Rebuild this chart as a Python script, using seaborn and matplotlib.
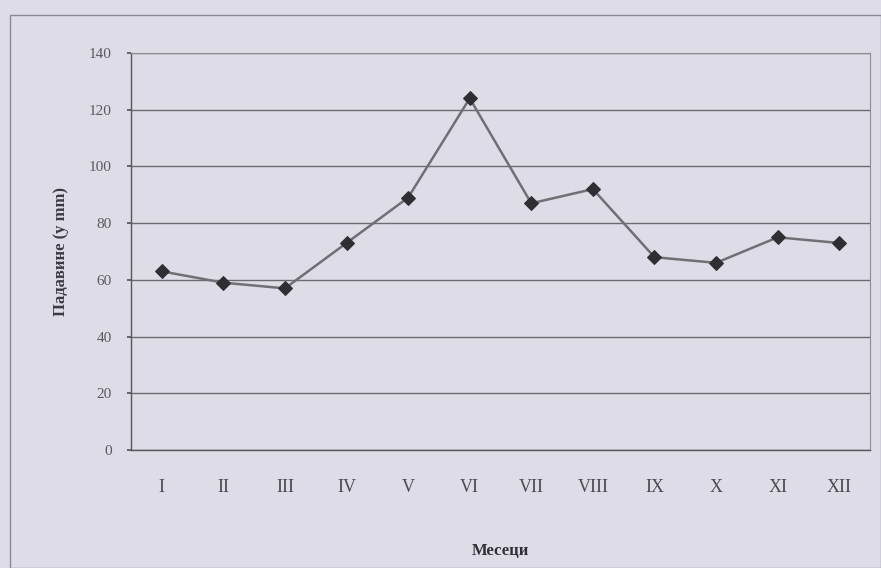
import numpy as np
import pandas as pd
import matplotlib
matplotlib.use("Agg")
import matplotlib.pyplot as plt
import seaborn as sns
from matplotlib.patches import Rectangle

# подаци
months = ["I", "II", "III", "IV", "V", "VI", "VII", "VIII", "IX", "X", "XI", "XII"]
precip = [63, 59, 57, 73, 89, 124, 87, 92, 68, 66, 75, 73]
y_ticks = [0, 20, 40, 60, 80, 100, 120, 140]

bg = "#dedde7"

sns.set_theme(style="white")
plt.rcParams['font.family'] = ['Liberation Serif', 'DejaVu Serif']

df = pd.DataFrame({"month": months, "precip": precip})

fig = plt.figure(figsize=(8.81, 5.68), dpi=100, facecolor=bg)
ax = fig.add_axes([131 / 881, 1 - 450 / 568, 739 / 881, 397 / 568])
ax.set_facecolor(bg)

# outer frame of the chart
fig.patches.append(Rectangle((10 / 881, 0.0), 871 / 881, 1 - 15 / 568,
                             transform=fig.transFigure, fill=False,
                             edgecolor="#8a8a92", linewidth=1.0))

sns.lineplot(data=df, x="month", y="precip", ax=ax, sort=False,
             color="#6f6f74", linewidth=1.8, marker="D", markersize=7,
             markerfacecolor="#2e2e33", markeredgecolor="#2e2e33")

ax.set_xlim(-0.5, 11.5)
ax.set_ylim(0, 140)
ax.set_yticks(y_ticks)
ax.yaxis.grid(True, color="#6a6a70", linewidth=1.0)
ax.set_axisbelow(True)

for side in ["top", "right"]:
    ax.spines[side].set_visible(True)
    ax.spines[side].set_color("#8c8c92")
    ax.spines[side].set_linewidth(0.8)
for side in ["left", "bottom"]:
    ax.spines[side].set_color("#55555a")
    ax.spines[side].set_linewidth(1.0)

ax.tick_params(axis="y", length=3, left=True, color="#55555a",
               labelsize=11, labelcolor="#5a5a60", pad=11)
ax.tick_params(axis="x", length=0, labelsize=13, labelcolor="#4a4a50", pad=21)

ax.set_xlabel("Месеци", fontsize=12, fontweight="bold", color="#2f2f35", labelpad=34)
ax.set_ylabel("Падавине (у mm)", fontsize=12, fontweight="bold", color="#3a3a40", labelpad=14)

fig.savefig("out.png", dpi=100, facecolor=bg)
